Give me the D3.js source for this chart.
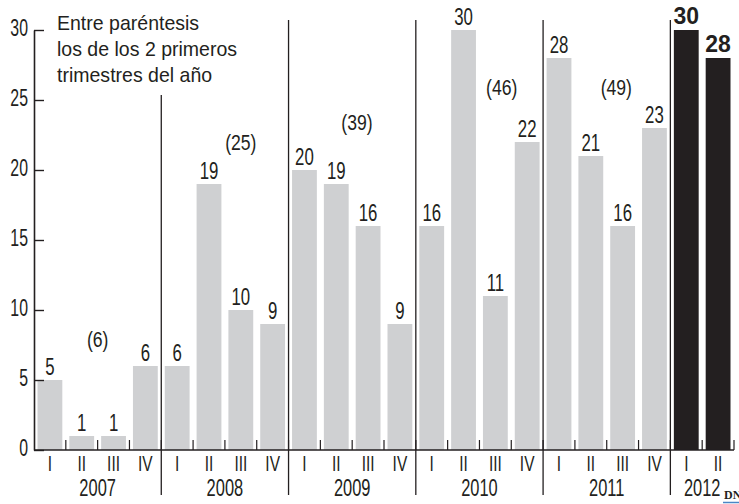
<!DOCTYPE html>
<html>
<head>
<meta charset="utf-8">
<script src="https://cdn.jsdelivr.net/npm/d3@7"></script>
<style>
  html, body { margin: 0; padding: 0; background: #ffffff; }
  svg { display: block; }
</style>
</head>
<body>
<svg id="chart" width="739" height="504"></svg>
<script>
// ---------- data ----------
const years = ["2007", "2008", "2009", "2010", "2011", "2012"];
const quarterNames = ["I", "II", "III", "IV"];
const values2007 = [5, 1, 1, 6];
const values2008 = [6, 19, 10, 9];
const values2009 = [20, 19, 16, 9];
const values2010 = [16, 30, 11, 22];
const values2011 = [28, 21, 16, 23];
const values2012 = [30, 28];
const halfYearTotals = [6, 25, 39, 46, 49];   // (first two quarters of each year)
const yTicks = [0, 5, 10, 15, 20, 25, 30];
const noteLines = ["Entre paréntesis", "los de los 2 primeros", "trimestres del año"];

// ---------- layout (not data) ----------
const totalAnchors = [
  { q: 2.0, v: 7.9 },
  { q: 2.5, v: 22.0 },
  { q: 2.15, v: 23.4 },
  { q: 2.7, v: 25.9 },
  { q: 2.3, v: 25.9 }
];
const dividerTops = [95, 20, 20, 20, 20];

const perYear = [values2007, values2008, values2009, values2010, values2011, values2012];
const rows = [];
perYear.forEach((vals, yi) => {
  vals.forEach((v, qi) => {
    rows.push({ key: years[yi] + "-" + quarterNames[qi], year: years[yi], yi, q: quarterNames[qi], qi, value: v, highlight: years[yi] === "2012" });
  });
});

const ink = "#231f20";
const grey = "#cfd0d2";
const sans = "'Liberation Sans', Arial, sans-serif";

const svg = d3.select("#chart");
const plotL = 34, plotR = 734, plotT = 30, plotB = 450;

const x = d3.scaleBand()
  .domain(rows.map(d => d.key))
  .range([plotL, plotR])
  .paddingInner(0.22)
  .paddingOuter(0.11);
const step = x.step();
const slotStart = i => plotL + i * step;

const y = d3.scaleLinear().domain([0, 30]).range([plotB, plotT]);

function label(g, tx, ty, str, opts) {
  const o = Object.assign({ size: 22, sx: 0.74, anchor: "middle", weight: 400, family: sans }, opts || {});
  const gg = g.append("g").attr("transform", `translate(${tx},${ty})`);
  gg.append("text")
    .attr("transform", `scale(${o.sx},1)`)
    .attr("text-anchor", o.anchor)
    .attr("font-family", o.family)
    .attr("font-size", o.size)
    .attr("font-weight", o.weight)
    .attr("fill", ink)
    .text(str);
  return gg;
}

// ---------- bars ----------
svg.append("g").selectAll("rect").data(rows).join("rect")
  .attr("x", d => x(d.key))
  .attr("width", x.bandwidth())
  .attr("y", d => y(d.value))
  .attr("height", d => y(0) - y(d.value))
  .attr("fill", d => d.highlight ? ink : grey);

// ---------- baseline + slot ticks ----------
const base = svg.append("g");
base.append("line")
  .attr("x1", plotL).attr("x2", plotR)
  .attr("y1", y(0)).attr("y2", y(0))
  .attr("stroke", ink).attr("stroke-width", 1.6);
base.selectAll("line.slot").data(d3.range(1, rows.length + 1)).join("line")
  .attr("class", "slot")
  .attr("x1", i => slotStart(i)).attr("x2", i => slotStart(i))
  .attr("y1", y(0)).attr("y2", y(0) - 10)
  .attr("stroke", ink).attr("stroke-width", 1.2);

// ---------- year dividers ----------
svg.append("g").selectAll("line").data(d3.range(1, years.length)).join("line")
  .attr("x1", k => slotStart(k * 4)).attr("x2", k => slotStart(k * 4))
  .attr("y1", (k, i) => dividerTops[i]).attr("y2", 495)
  .attr("stroke", ink).attr("stroke-width", 1.3);

// ---------- y axis ----------
const yAxis = svg.append("g")
  .attr("transform", `translate(${plotL},0)`)
  .call(d3.axisLeft(y).tickValues(yTicks).tickSize(-10).tickSizeOuter(0).tickPadding(0));
yAxis.select(".domain").attr("stroke", ink).attr("stroke-width", 1.6);
yAxis.selectAll(".tick line").attr("stroke", ink).attr("stroke-width", 1.4);
yAxis.selectAll(".tick text")
  .attr("x", 0).attr("dy", null)
  .attr("y", 5)
  .attr("transform", "translate(-6,0) scale(0.66,1)")
  .attr("text-anchor", "end")
  .attr("font-family", sans)
  .attr("font-size", 24)
  .attr("fill", ink);

// ---------- value labels ----------
const vl = svg.append("g");
rows.forEach(d => {
  const cx = x(d.key) + x.bandwidth() / 2;
  if (d.highlight) {
    label(vl, cx, y(d.value) - 6, String(d.value), { size: 23, sx: 1.0, weight: 700 });
  } else {
    label(vl, cx, y(d.value) - 5, String(d.value), { size: 24, sx: 0.7 });
  }
});

// ---------- half-year totals ----------
const tl = svg.append("g");
halfYearTotals.forEach((t, i) => {
  const a = totalAnchors[i];
  label(tl, slotStart(i * 4 + a.q), y(a.v) + 8, `(${t})`, { size: 22, sx: 0.8 });
});

// ---------- quarter + year labels ----------
const xl = svg.append("g");
rows.forEach(d => {
  label(xl, x(d.key) + x.bandwidth() / 2, 470.5, d.q, { size: 21.5, sx: 0.72 });
});
years.forEach((yr, i) => {
  const n = perYear[i].length;
  label(xl, (slotStart(i * 4) + slotStart(i * 4 + n)) / 2, 495.5, yr, { size: 23.5, sx: 0.7 });
});

// ---------- note ----------
const note = svg.append("g");
noteLines.forEach((ln, i) => {
  label(note, 57, 30 + i * 26, ln, { size: 21, sx: 0.93, anchor: "start" });
});

// ---------- source logo ----------
svg.append("text")
  .attr("x", 724).attr("y", 499)
  .attr("font-family", "'Liberation Serif', 'DejaVu Serif', serif")
  .attr("font-weight", 700).attr("font-size", 12)
  .attr("fill", ink).text("DN");
svg.append("line")
  .attr("x1", 723).attr("x2", 739).attr("y1", 502.5).attr("y2", 502.5)
  .attr("stroke", "#4a86c5").attr("stroke-width", 1.5);
</script>
</body>
</html>
